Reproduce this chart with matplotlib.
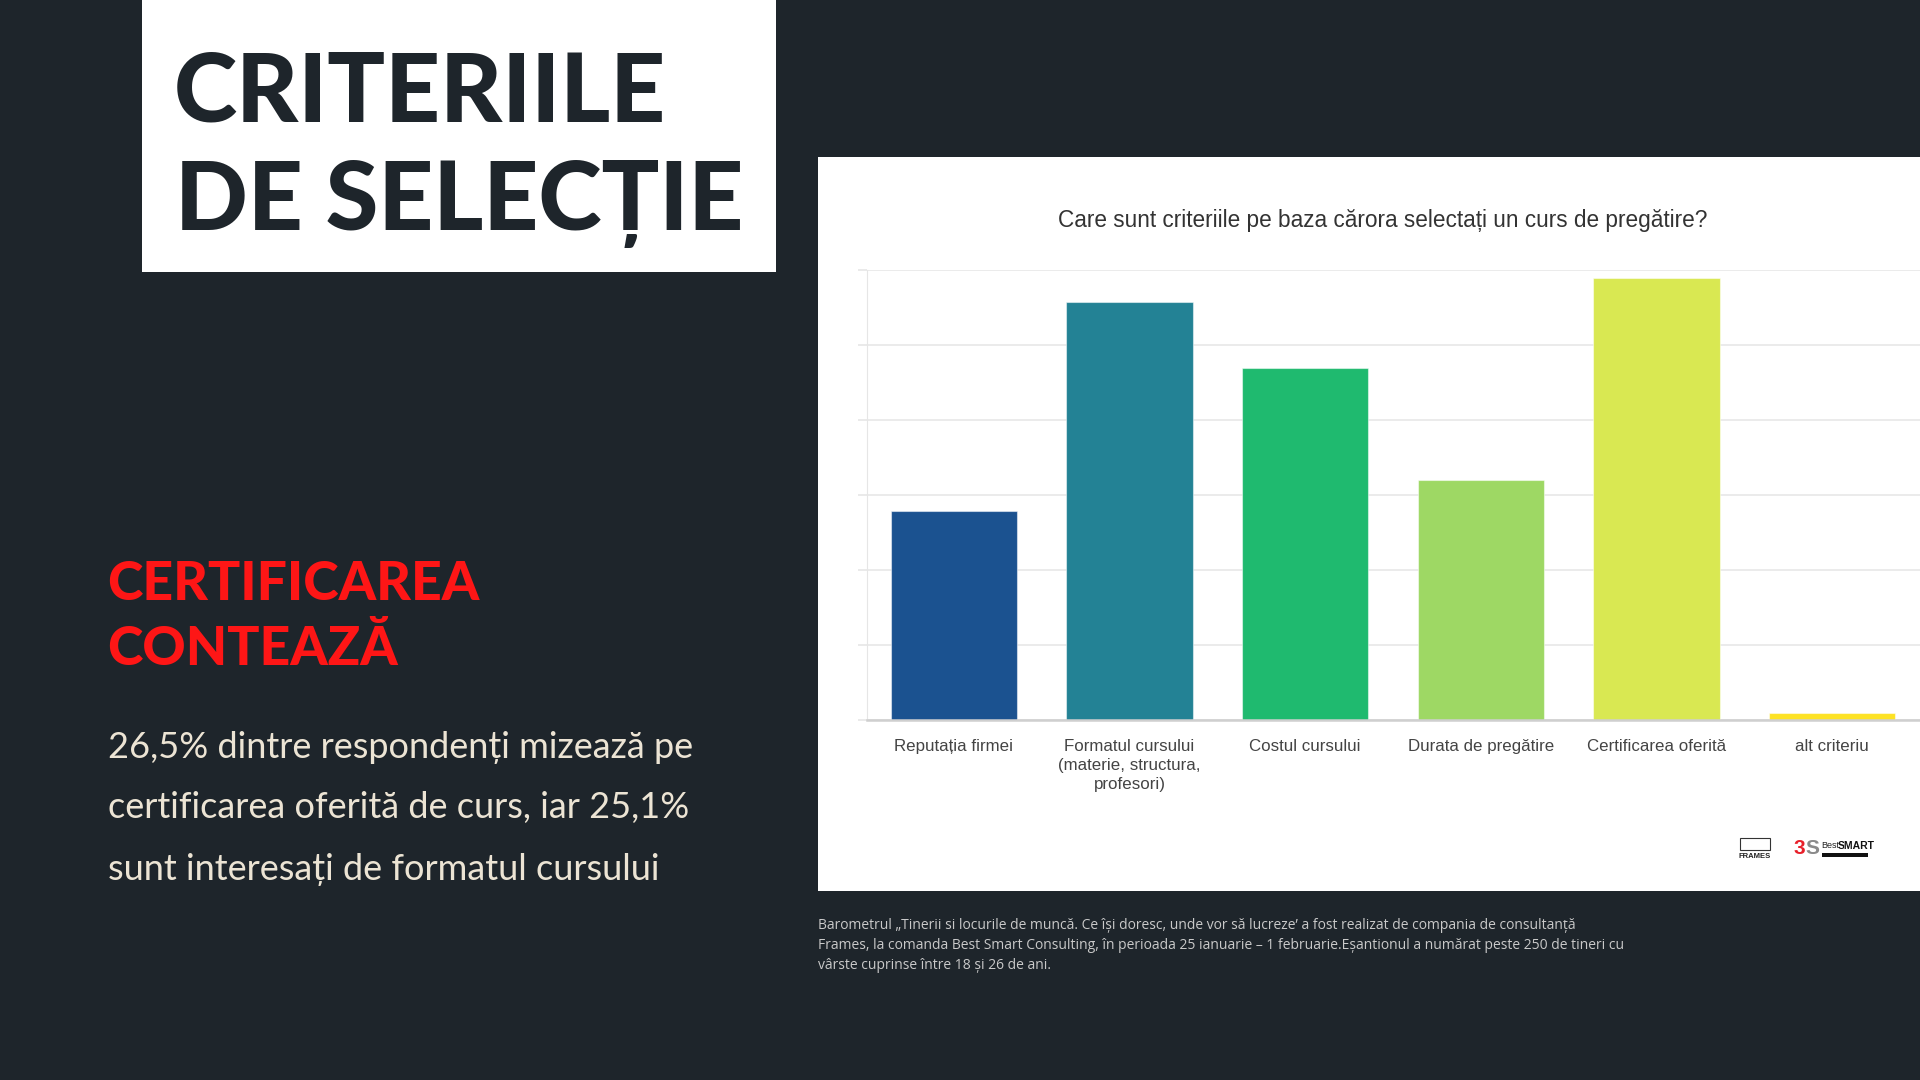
import matplotlib.pyplot as plt
from matplotlib.patches import Rectangle

W, H = 1920, 1080

# --- data ---
categories = ["Reputația firmei",
              "Formatul cursului\n(materie, structura,\nprofesori)",
              "Costul cursului",
              "Durata de pregătire",
              "Certificarea oferită",
              "alt criteriu"]
values = [12.5, 25.1, 21.1, 14.4, 26.5, 0.4]
bar_colors = ["#1b5290", "#238295", "#1fba6f", "#9ed864", "#d9e852", "#fde224"]
grid_ticks = [0, 4.5, 9, 13.5, 18, 22.5, 27]

chart_title = "Care sunt criteriile pe baza cărora selectați un curs de pregătire?"
headline = ["CRITERIILE", "DE SELECȚIE"]
subhead = ["CERTIFICAREA", "CONTEAZĂ"]
body = ["26,5% dintre respondenți mizează pe",
        "certificarea oferită de curs, iar 25,1%",
        "sunt interesați de formatul cursului"]
footnote = ["Barometrul „Tinerii si locurile de muncă. Ce își doresc, unde vor să lucreze’ a fost realizat de compania de consultanță",
            "Frames, la comanda Best Smart Consulting, în perioada 25 ianuarie – 1 februarie.Eșantionul a numărat peste 250 de tineri cu",
            "vârste cuprinse între 18 și 26 de ani."]

BG = "#1e252b"


def fx(px):
    return px / W


def fy(py):
    return 1 - py / H


fig = plt.figure(figsize=(19.2, 10.8), dpi=100, facecolor=BG)

# white boxes (behind the chart axes)
fig.patches.append(Rectangle((fx(142), fy(272)), fx(776) - fx(142), fy(0) - fy(272),
                             transform=fig.transFigure, facecolor="white", edgecolor="none", zorder=-2))
fig.patches.append(Rectangle((fx(818), fy(891)), 1 - fx(818), fy(157) - fy(891),
                             transform=fig.transFigure, facecolor="white", edgecolor="none", zorder=-2))

# left side texts
head_font = ["Lato", "DejaVu Sans"]
fig.text(fx(174), fy(121), headline[0], fontsize=69, fontweight="black", color=BG,
         family=head_font, va="baseline", ha="left")
fig.text(fx(175), fy(230), headline[1], fontsize=69, fontweight="black", color=BG,
         family=head_font, va="baseline", ha="left")

fig.text(fx(107), fy(600), subhead[0], fontsize=38.5, fontweight="black", color="#fe1616",
         family=head_font, va="baseline", ha="left")
fig.text(fx(107), fy(665), subhead[1], fontsize=38.5, fontweight="black", color="#fe1616",
         family=head_font, va="baseline", ha="left")

for line, y in zip(body, [758, 818, 880]):
    fig.text(fx(108), fy(y), line, fontsize=26, color="#ece4d4", family=head_font,
             va="baseline", ha="left")

for line, y in zip(footnote, [929, 949, 969]):
    fig.text(fx(818), fy(y), line, fontsize=10, color="#c9c9c9", family=["Open Sans", "DejaVu Sans"],
             va="baseline", ha="left")

# chart
ax = fig.add_axes([fx(867), fy(719.5), 1 - fx(867), fy(270) - fy(719.5)])
ax.patch.set_visible(False)
ax.bar(range(len(values)), values, width=0.72, color=bar_colors,
       edgecolor=(1, 1, 1, 0.5), linewidth=0.8, zorder=3)
ax.set_xlim(-0.495, 5.5)
ax.set_ylim(0, 27)
ax.set_yticks(grid_ticks)
ax.set_yticklabels([])
ax.grid(axis="y", color="#e8e8e8", linewidth=1.2, zorder=0)
ax.tick_params(axis="y", length=6.5, color="#e6e6e6", width=1.2)
for s in ["top", "right"]:
    ax.spines[s].set_visible(False)
ax.spines["left"].set_color("#e6e6e6")
ax.spines["bottom"].set_color("#cfcfcf")
ax.spines["bottom"].set_linewidth(1.8)
ax.spines["bottom"].set_zorder(4)
ax.set_xticks(range(len(categories)))
ax.set_xticklabels(categories, fontsize=12.2, color="#444444", family=["Liberation Sans", "DejaVu Sans"],
                   linespacing=1.35)
ax.tick_params(axis="x", length=0, pad=14)

fig.text(fx(1383), fy(221), chart_title, fontsize=16.3, color="#333333",
         family=["Liberation Sans", "DejaVu Sans"], ha="center", va="center")

# logos (text stand-ins)
fig.patches.append(Rectangle((fx(1740), fy(850)), fx(30), fy(838) - fy(850), transform=fig.transFigure,
                             facecolor="none", edgecolor="#333333", linewidth=0.8))
fig.text(fx(1755), fy(857), "FRAMES", fontsize=5.5, color="#222222", ha="center", va="center",
         fontweight="bold", family=["Liberation Sans"])
fig.text(fx(1793), fy(849), "3", fontsize=15, color="#e8202a", ha="left", va="center",
         fontweight="bold", family=["Liberation Sans"])
fig.text(fx(1805), fy(849), "S", fontsize=15, color="#8a8a8a", ha="left", va="center",
         fontweight="bold", family=["Liberation Sans"])
fig.text(fx(1821), fy(846), "Best", fontsize=6.5, color="#222222", ha="left", va="center",
         family=["Liberation Sans"])
fig.text(fx(1838), fy(846), "SMART", fontsize=7.5, color="#111111", ha="left", va="center",
         fontweight="bold", family=["Liberation Sans"])
fig.patches.append(Rectangle((fx(1822), fy(857)), fx(46), fy(853) - fy(857), transform=fig.transFigure,
                             facecolor="#111111", edgecolor="none"))

fig.savefig("out.png", dpi=100, facecolor=BG)
